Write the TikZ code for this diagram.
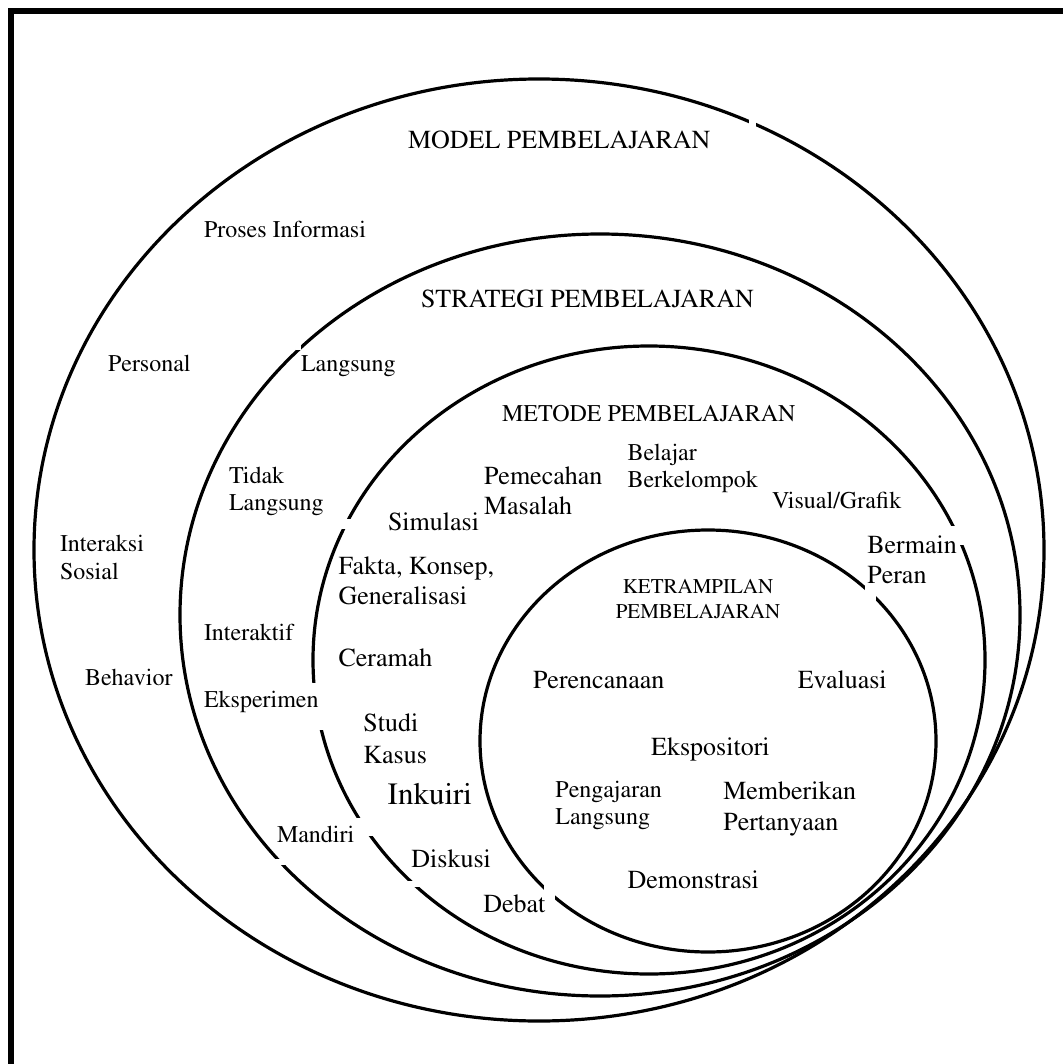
\documentclass[tikz,border=0pt]{standalone}
\usepackage[T1]{fontenc}
\usepackage{times}
\begin{document}
\begin{tikzpicture}[x=0.5pt,y=-0.5pt,
  ring/.style={line width=1.6pt},
  frameline/.style={line width=2.75pt},
  gapfill/.style={fill=white,draw=none},
  lbl/.style={anchor=base west,inner sep=0pt,outer sep=0pt},
  fs/.style={font=\fontsize{12}{14}\selectfont},
  fm/.style={font=\fontsize{13}{15}\selectfont},
  fk/.style={font=\fontsize{10.5}{12.5}\selectfont},
  fl/.style={font=\fontsize{15.5}{18}\selectfont}]
\useasboundingbox (0,0) rectangle (1062,1064);

% page frame (only the top and left edges fall inside the sheet)
\draw[frameline] (1080,11) -- (11,11) -- (11,1080);

% nested rings
\draw[ring] (539,550) ellipse [x radius=252.5pt, y radius=235.5pt];
\draw[ring] (600,615) ellipse [x radius=210pt, y radius=190.5pt];
\draw[ring] (649,660) ellipse [x radius=168pt, y radius=157pt];
\draw[ring] (708,741) ellipse [x radius=114pt, y radius=105.5pt];

% breaks in the rings left by the text boxes
\fill[gapfill] (749,112) rectangle (756,130);
\fill[gapfill] (296,344) rectangle (301,350);
\fill[gapfill] (338,519) rectangle (362,529);
\fill[gapfill] (300,683) rectangle (332,730);
\fill[gapfill] (350,818) rectangle (382,836);
\fill[gapfill] (398,881) rectangle (424,887);
\fill[gapfill] (264,859) rectangle (290,865);
\fill[gapfill] (544,872) rectangle (555,905);
\fill[gapfill] (946,526) rectangle (975,545);
\fill[gapfill] (865,575) rectangle (876,605);

% model level
\node[lbl,fm] (model) at (408,149) {MODEL PEMBELAJARAN};
\node[lbl,fs] (proses) at (204,237) {Proses Informasi};
\node[lbl,fs] (personal) at (108,371) {Personal};
\node[lbl,fs] (interaksi) at (60,551) {Interaksi};
\node[lbl,fs] (sosial) at (60,579) {Sosial};
\node[lbl,fs] (behavior) at (85,685) {Behavior};

% strategy level
\node[lbl,fm] (strategi) at (421,307.5) {STRATEGI PEMBELAJARAN};
\node[lbl,fs] (langsung) at (301,371) {Langsung};
\node[lbl,fs] (tidak) at (229,483) {Tidak};
\node[lbl,fs] (tidaklangsung) at (229,510) {Langsung};
\node[lbl,fs] (interaktif) at (204,640) {Interaktif};
\node[lbl,fs] (eksperimen) at (204,707) {Eksperimen};
\node[lbl,fs] (mandiri) at (277,842) {Mandiri};

% method level
\node[lbl,fs] (metode) at (502,421) {METODE PEMBELAJARAN};
\node[lbl,fm] (pemecahan) at (484,484) {Pemecahan};
\node[lbl,fm] (masalah) at (484,514.5) {Masalah};
\node[lbl,fs] (belajar) at (627.5,460.5) {Belajar};
\node[lbl,fs] (berkelompok) at (627.5,487.5) {Berkelompok};
\node[lbl,fs] (visual) at (772,508) {Visual/Grafik};
\node[lbl,fm] (simulasi) at (388,530) {Simulasi};
\node[lbl,fm] (fakta) at (338.6,574) {Fakta, Konsep,};
\node[lbl,fm] (generalisasi) at (338.6,604) {Generalisasi};
\node[lbl,fm] (ceramah) at (338.6,666) {Ceramah};
\node[lbl,fm] (studi) at (363.4,731) {Studi};
\node[lbl,fm] (kasus) at (363.4,763) {Kasus};
\node[lbl,fl] (inkuiri) at (387.7,804.5) {Inkuiri};
\node[lbl,fm] (diskusi) at (411.4,867) {Diskusi};
\node[lbl,fm] (debat) at (483.3,912.5) {Debat};
\node[lbl,fm] (bermain) at (867.3,553) {Bermain};
\node[lbl,fm] (peran) at (867.3,583) {Peran};

% skill level
\node[anchor=base,inner sep=0pt,fk] (ketrampilan) at (698,593) {KETRAMPILAN};
\node[anchor=base,inner sep=0pt,fk] (ketrampilan2) at (698,618.4) {PEMBELAJARAN};
\node[lbl,fm] (perencanaan) at (533,688) {Perencanaan};
\node[lbl,fm] (evaluasi) at (797.8,688) {Evaluasi};
\node[lbl,fm] (ekspositori) at (651.2,755.5) {Ekspositori};
\node[lbl,fs] (pengajaran) at (555.4,797) {Pengajaran};
\node[lbl,fs] (pengajaran2) at (555.4,824) {Langsung};
\node[lbl,fm] (memberikan) at (723.3,799.5) {Memberikan};
\node[lbl,fm] (pertanyaan) at (723.3,830) {Pertanyaan};
\node[lbl,fm] (demonstrasi) at (627.5,888.5) {Demonstrasi};
\end{tikzpicture}
\end{document}
